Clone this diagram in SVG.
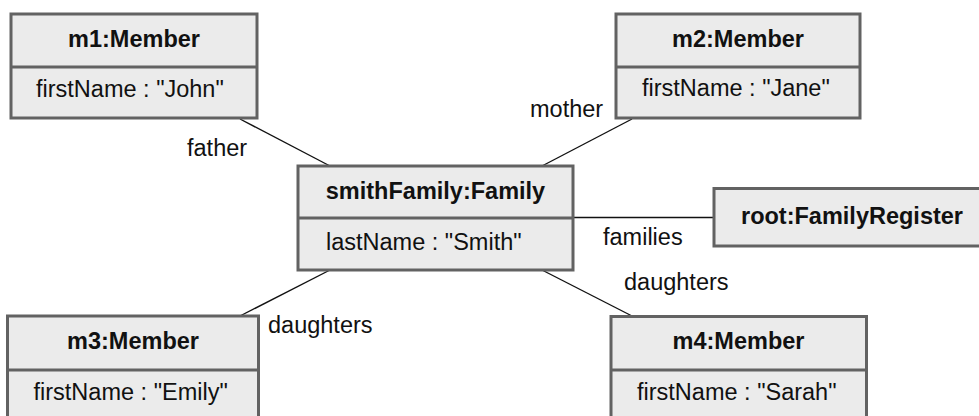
<svg xmlns="http://www.w3.org/2000/svg" width="979" height="416" viewBox="0 0 979 416">
  <style>
    .box { fill: #ebebeb; stroke: #626262; stroke-width: 3; }
    .sep { stroke: #626262; stroke-width: 3; }
    .title { font-family: "Liberation Sans", Arial, sans-serif; font-size: 23.5px; font-weight: bold; fill: #111; text-anchor: middle; }
    .attr { font-family: "Liberation Sans", Arial, sans-serif; font-size: 23.5px; fill: #111; }
    .label { font-family: "Liberation Sans", Arial, sans-serif; font-size: 23.5px; fill: #111; }
    .link { stroke: #111; stroke-width: 1.4; fill: none; }
  </style>

  <rect width="979" height="416" fill="#ffffff"/>

  <!-- associations -->
  <g id="connectors">
    <line class="link" x1="240" y1="119" x2="330" y2="166"/>
    <line class="link" x1="632" y1="119" x2="542" y2="166"/>
    <line class="link" x1="573" y1="217.5" x2="714" y2="217.5"/>
    <line class="link" x1="330" y1="270" x2="240" y2="316"/>
    <line class="link" x1="542" y1="270" x2="632" y2="316"/>
    <text class="label" x="187" y="156">father</text>
    <text class="label" x="530" y="117">mother</text>
    <text class="label" x="603" y="245">families</text>
    <text class="label" x="268" y="333">daughters</text>
    <text class="label" x="624" y="289.5">daughters</text>
  </g>

  <g id="m1">
    <rect class="box" x="11" y="14" width="246" height="104"/>
    <line class="sep" x1="11" y1="67" x2="257" y2="67"/>
    <text class="title" x="134" y="47">m1:Member</text>
    <text class="attr" x="36" y="97">firstName : "John"</text>
  </g>

  <g id="m2">
    <rect class="box" x="616" y="14" width="244" height="104"/>
    <line class="sep" x1="616" y1="67" x2="860" y2="67"/>
    <text class="title" x="738" y="47">m2:Member</text>
    <text class="attr" x="642" y="96">firstName : "Jane"</text>
  </g>

  <g id="smithFamily">
    <rect class="box" x="298" y="166" width="275" height="104"/>
    <line class="sep" x1="298" y1="218" x2="573" y2="218"/>
    <text class="title" x="435.5" y="198.5">smithFamily:Family</text>
    <text class="attr" x="326" y="250">lastName : "Smith"</text>
  </g>

  <g id="root">
    <rect class="box" x="714" y="188.5" width="290" height="57.5"/>
    <text class="title" x="852" y="223.5">root:FamilyRegister</text>
  </g>

  <g id="m3">
    <rect class="box" x="7.5" y="316" width="251" height="110"/>
    <line class="sep" x1="7.5" y1="370" x2="258.5" y2="370"/>
    <text class="title" x="133" y="348.5">m3:Member</text>
    <text class="attr" x="33.5" y="400">firstName : "Emily"</text>
  </g>

  <g id="m4">
    <rect class="box" x="611" y="316.5" width="255.5" height="110"/>
    <line class="sep" x1="611" y1="370" x2="866.5" y2="370"/>
    <text class="title" x="738.5" y="348.5">m4:Member</text>
    <text class="attr" x="637" y="400">firstName : "Sarah"</text>
  </g>
</svg>
